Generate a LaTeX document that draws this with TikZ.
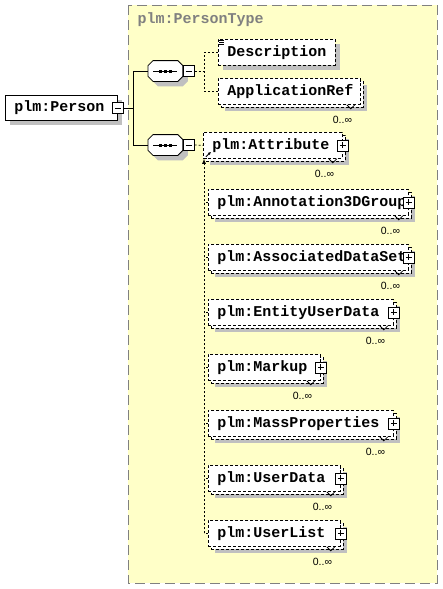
\documentclass[tikz,border=0pt]{standalone}
\usepackage{fontspec}
\setmainfont{Liberation Sans}
\setmonofont{Liberation Mono}
\usetikzlibrary{calc,arrows.meta}

\definecolor{typeyellow}{RGB}{255,255,200}
\definecolor{shadowgray}{RGB}{192,192,192}
\definecolor{framegray}{RGB}{128,128,128}

\tikzset{
  elem/.style={draw, fill=white, anchor=north west, minimum height=26pt, inner xsep=9pt, inner ysep=0pt,
    align=left, font=\ttfamily\bfseries\fontsize{15}{18}\selectfont},
  opt/.style={dash pattern=on 3pt off 2pt},
  shadowed/.style={preaction={fill=shadowgray, draw=none, transform canvas={xshift=#1, yshift=-#1}}},
  shadowed/.default=5pt,
  multi/.style={preaction={draw, fill=white, dash pattern=on 3pt off 2pt, transform canvas={xshift=3pt, yshift=-3pt}}},
  signbox/.style={draw, solid, fill=white, minimum size=11pt, inner sep=0pt},
  minusbox/.style={signbox, path picture={
    \draw[solid] ([xshift=2.5pt]path picture bounding box.west) -- ([xshift=-2.5pt]path picture bounding box.east);}},
  plusbox/.style={signbox, path picture={
    \draw[solid] ([xshift=2.5pt]path picture bounding box.west) -- ([xshift=-2.5pt]path picture bounding box.east);
    \draw[solid] ([yshift=-2.5pt]path picture bounding box.north) -- ([yshift=2.5pt]path picture bounding box.south);}},
  seq/.style={anchor=west, minimum width=34pt, minimum height=20pt, inner sep=0pt},
  link/.style={dash pattern=on 2pt off 2pt},
  occurs/.style={anchor=east, font=\fontsize{10.5}{12}\selectfont},
}

\begin{document}
\begin{tikzpicture}[x=1pt, y=-1pt, line width=0.8pt]
  \useasboundingbox (0,0) rectangle (443,589);
  % complex type
  \filldraw[fill=typeyellow, draw=framegray, dash pattern=on 10pt off 5pt, line width=1pt] (128,5) rectangle (437,583);
  \node[anchor=west, text=framegray, font=\ttfamily\bfseries\fontsize{15}{18}\selectfont] (title) at (134,20) {plm:PersonType};

  % root element
  \node[elem, shadowed, minimum width=112pt, text width=94pt, minimum height=25pt] (person) at (5,95) {plm:Person};
  \node[minusbox] (personmin) at (person.east) {};
  \coordinate (fork) at ($(personmin.east)+(10,0)$);

  % sequences
  \node[seq] (seqa) at (148,71) {};
  \node[seq] (seqb) at (148,145) {};
  \foreach \s in {seqa,seqb} {
    \draw[fill=white, shadowed] ($(\s.north west)+(5,0)$) -- ($(\s.north east)+(-5,0)$) -- ($(\s.north east)+(0,5)$)
      -- ($(\s.south east)+(0,-5)$) -- ($(\s.south east)+(-5,0)$) -- ($(\s.south west)+(5,0)$)
      -- ($(\s.south west)+(0,-5)$) -- ($(\s.north west)+(0,5)$) -- cycle;
    \draw ($(\s.center)+(-12,0)$) -- ++(24,0);
    \foreach \dx in {-5,0,5}
      \fill ($(\s.center)+(\dx-1.5,-1.5)$) rectangle ++(3,3);
  }
  \node[minusbox, anchor=west] (seqamin) at (seqa.east) {};
  \node[minusbox, anchor=west] (seqbmin) at (seqb.east) {};
  \draw (personmin.east) -- (fork);
  \draw (fork) |- (seqa.west);
  \draw (fork) |- (seqb.west);

  % first sequence
  \node[elem, opt, shadowed, minimum width=117pt, text width=99pt] (desc) at (218,39) {Description};
  \foreach \dy in {1,3,5}
    \draw[line width=0.6pt] ($(desc.north west)+(1,\dy)$) -- ++(5,0);
  \node[elem, opt, shadowed=7pt, multi, minimum width=142pt, text width=124pt] (appref) at (218,78) {ApplicationRef};
  \draw ($(appref.south east)+(-14,0)$) -- ++(4,4) -- ++(4,-4);
  \node[occurs] (apprefocc) at ($(appref.south east)+(-5,15)$) {0..∞};
  \coordinate (forka) at ($(seqamin.east)+(10,0)$);
  \draw[link] (seqamin.east) -- (forka);
  \draw[link] (desc.west) -| (forka);
  \draw[link] (appref.west) -| (forka);

  % second sequence
  \node[elem, opt, shadowed=7pt, multi, minimum width=139pt, text width=121pt] (attr) at (203,132) {plm:Attribute};
  \node[plusbox] (attrplus) at (attr.east) {};
  \draw ($(attr.south east)+(-14,0)$) -- ++(4,4) -- ++(4,-4);
  \node[occurs] (attrocc) at ($(attr.south east)+(-5,15)$) {0..∞};
  \draw[-{Latex[length=3pt,width=3pt]}] ($(attr.south west)+(3,-2)$) -- ++(5,-5);
  \draw[link] (seqbmin.east) -- (attr.west);
  \coordinate (rail) at (204,0);

  \foreach \nm/\yy/\ww/\txt [evaluate=\ww as \tw using \ww-18] in {
      ann/189/200/plm:Annotation3DGroup, assoc/244/200/plm:AssociatedDataSet,
      entity/299/185/plm:EntityUserData, markup/354/112/plm:Markup,
      mass/410/185/plm:MassProperties, udata/465/132/plm:UserData,
      ulist/520/132/plm:UserList} {
    \node[elem, opt, shadowed=7pt, multi, minimum width=\ww pt, text width=\tw pt] (\nm) at (208,\yy) {\txt};
    \node[plusbox] (\nm plus) at (\nm.east) {};
    \draw ($(\nm.south east)+(-14,0)$) -- ++(4,4) -- ++(4,-4);
    \node[occurs] (\nm occ) at ($(\nm.south east)+(-5,15)$) {0..∞};
    \draw[link] (\nm.west) -- (\nm.west -| rail);
  }
  \draw[link, -{Latex[length=5pt,width=4pt]}] (ulist.west -| rail) -- (attr.south -| rail);
\end{tikzpicture}
\end{document}
